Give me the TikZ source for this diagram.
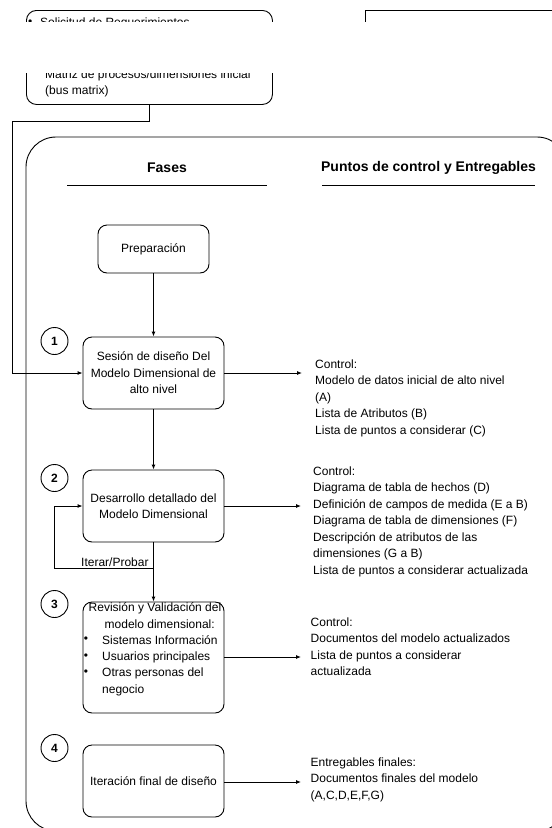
\documentclass[tikz,border=0pt]{standalone}
\usepackage{fontspec}
\setmainfont{Liberation Sans}
\usetikzlibrary{arrows.meta}
\begin{document}
\begin{tikzpicture}[x=1pt,y=-1pt,
  every node/.style={font=\fontsize{12}{16.5}\selectfont, text=black},
  phase/.style={draw, rounded corners=9pt, line width=0.9pt, minimum width=141pt,
                minimum height=72pt, align=center, inner sep=2pt},
  num/.style={draw, circle, line width=0.9pt, minimum size=27pt, inner sep=0pt,
              font=\fontsize{12}{12}\selectfont\bfseries},
  link/.style={line width=0.9pt, -{Latex[length=5pt,width=4pt]}},
  wire/.style={line width=0.9pt},
  notes/.style={anchor=north west, align=left, inner sep=0pt},
  head/.style={font=\fontsize{14}{14}\selectfont\bfseries}
]
\clip (0,0) rectangle (552,828);

% inputs at the top
\node[draw, line width=0.9pt, rounded corners=10pt, minimum width=246pt, minimum height=94pt,
      anchor=north west, inner sep=0pt] (req) at (26,10) {};
\node[anchor=west, inner sep=0pt] (reqb) at (28,23) {\textbullet};
\node[anchor=west, inner sep=0pt] (reqa) at (40,23) {Solicitud de Requerimientos};
\node[anchor=west, inner sep=0pt] (reqc) at (45,75) {Matriz de procesos/dimensiones inicial};
\node[anchor=west, inner sep=0pt] (reqd) at (45,91) {(bus matrix)};
\node[draw, line width=0.9pt, minimum width=220pt, minimum height=50pt,
      anchor=north west, inner sep=0pt] (data) at (365,10) {};
\fill[white] (0,22) rectangle (552,73);

% outer frame
\draw[wire, rounded corners=30pt] (26,137) rectangle (567,831);

% column headings
\node[head] (hfases) at (167,168) {Fases};
\draw[wire] (67,185) -- (267,185);
\node[head] (hpuntos) at (428.5,168) {Puntos de control y Entregables};
\draw[wire] (322,185) -- (535,185);

% phases
\node[phase, minimum width=111pt, minimum height=48pt] (prep) at (153.5,249) {Preparación};
\node[phase] (s1) at (153.5,373) {Sesión de diseño Del\\Modelo Dimensional de\\alto nivel};
\node[phase] (s2) at (153.5,506) {Desarrollo detallado del\\Modelo Dimensional};
\node[phase, minimum height=111pt] (s3) at (153.5,657.5) {};
\node[phase] (s4) at (153.5,781) {Iteración final de diseño};

\node (r1) at (155,608) {Revisión y Validación del};
\node[anchor=west, inner sep=0pt] (r2) at (104.5,624) {modelo dimensional:};
\node (rb1) at (86,640) {\textbullet};
\node (rb2) at (86,657) {\textbullet};
\node (rb3) at (86,673) {\textbullet};
\node[anchor=west, inner sep=0pt] (rt1) at (102,640) {Sistemas Información};
\node[anchor=west, inner sep=0pt] (rt2) at (102,657) {Usuarios principales};
\node[anchor=west, inner sep=0pt] (rt3) at (102,673) {Otras personas del};
\node[anchor=west, inner sep=0pt] (rt4) at (102,690) {negocio};

% step numbers
\node[num] (n1) at (54.5,341) {1};
\node[num] (n2) at (54.5,478) {2};
\node[num] (n3) at (54.5,604) {3};
\node[num] (n4) at (54.5,748) {4};

% flow
\coordinate (bend) at (12,121);
\draw[link] (req.south) |- (bend) |- (s1.west);
\draw[link] (prep) -- (s1);
\draw[link] (s1) -- (s2);
\coordinate (loopR) at (153.5,568);
\coordinate (loopL) at (54.5,568);
\draw[wire] (s2.south) -- (loopR);
\draw[link] (loopR) -- (s3.north);
\draw[link] (loopR) -- (loopL) |- (s2.west);
\node[anchor=base west, inner sep=0pt] (iter) at (81,566) {Iterar/Probar};

% checkpoints and deliverables
\coordinate (o1) at (302,373);
\coordinate (o2) at (301,506);
\coordinate (o3) at (301,657);
\coordinate (o4) at (301,782);
\draw[link] (s1.east) -- (o1);
\draw[link] (s2.east) -- (o2);
\draw[link] (s3.east |- o3) -- (o3);
\draw[link] (s4.east |- o4) -- (o4);

\node[notes] (t1) at (315,359.5) {Control:\\Modelo de datos inicial de alto nivel\\(A)\\Lista de Atributos (B)\\Lista de puntos a considerar (C)};
\node[notes] (t2) at (313,466.5) {Control:\\Diagrama de tabla de hechos (D)\\Definición de campos de medida (E a B)\\Diagrama de tabla de dimensiones (F)\\Descripción de atributos de las\\dimensiones (G a B)\\Lista de puntos a considerar actualizada};
\node[notes] (t3) at (310.5,617.5) {Control:\\Documentos del modelo actualizados\\Lista de puntos a considerar\\actualizada};
\node[notes] (t4) at (310.5,757.5) {Entregables finales:\\Documentos finales del modelo\\(A,C,D,E,F,G)};
\end{tikzpicture}
\end{document}
